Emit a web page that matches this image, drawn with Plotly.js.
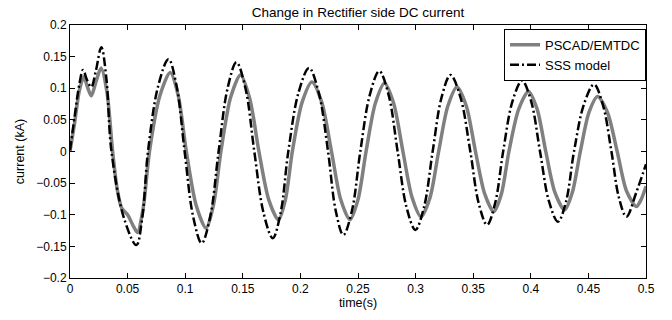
<!DOCTYPE html>
<html>
<head>
<meta charset="utf-8">
<script src="https://cdn.plot.ly/plotly-3.0.1.min.js"></script>
<style>html,body{margin:0;padding:0;background:#fff;}#chart{width:672px;height:320px;}</style>
</head>
<body>
<div id="chart"></div>
<script>
// PSCAD/EMTDC simulation (gray)
const pscadTime = [0.000,0.004,0.008,0.012,0.0155,0.0185,0.0225,0.027,0.032,0.037,0.041,0.045,0.050,0.055,0.0585,0.0635,0.069,0.078,0.087,0.094,0.101,0.1095,0.118,0.1245,0.131,0.1395,0.148,0.156,0.164,0.1725,0.181,0.187,0.193,0.2015,0.210,0.2185,0.227,0.235,0.243,0.250,0.257,0.265,0.273,0.281,0.289,0.297,0.3047,0.3125,0.320,0.328,0.336,0.344,0.352,0.360,0.3678,0.3745,0.381,0.3895,0.398,0.4055,0.413,0.421,0.4294,0.436,0.443,0.4505,0.458,0.4665,0.475,0.483,0.4916,0.496,0.500];
const pscadCurrent = [0.000,0.045,0.095,0.118,0.100,0.088,0.110,0.132,0.095,0.000,-0.060,-0.090,-0.100,-0.118,-0.128,-0.090,0.000,0.088,0.125,0.088,0.000,-0.085,-0.121,-0.085,0.000,0.086,0.121,0.084,0.000,-0.076,-0.108,-0.076,0.000,0.078,0.110,0.078,0.000,-0.076,-0.108,-0.076,0.000,0.076,0.108,0.076,0.000,-0.073,-0.103,-0.073,0.000,0.072,0.102,0.072,0.000,-0.067,-0.095,-0.067,0.000,0.067,0.095,0.067,0.000,-0.065,-0.0925,-0.065,0.000,0.062,0.087,0.062,0.000,-0.062,-0.087,-0.075,-0.055];

// SSS model (black dash-dot)
const sssTime = [0.000,0.004,0.008,0.0113,0.015,0.0185,0.0225,0.0272,0.0316,0.036,0.0468,0.0576,0.0627,0.0677,0.0766,0.0855,0.0925,0.0995,0.1069,0.1143,0.1217,0.129,0.1368,0.1445,0.1523,0.160,0.168,0.176,0.1828,0.1895,0.1985,0.2075,0.2158,0.224,0.2307,0.2373,0.2447,0.252,0.2603,0.2685,0.2765,0.2844,0.2921,0.2998,0.3073,0.3148,0.3226,0.3303,0.3389,0.3475,0.3548,0.362,0.369,0.376,0.3842,0.3924,0.4002,0.408,0.4158,0.4236,0.4306,0.4375,0.4462,0.4548,0.4624,0.470,0.4765,0.483,0.4915,0.500];
const sssCurrent = [0.002,0.055,0.105,0.129,0.112,0.102,0.128,0.165,0.115,0.000,-0.105,-0.148,-0.105,0.000,0.104,0.146,0.104,0.000,-0.103,-0.145,-0.103,0.000,0.100,0.141,0.100,0.000,-0.097,-0.137,-0.097,0.000,0.094,0.132,0.094,0.000,-0.094,-0.132,-0.094,0.000,0.090,0.127,0.090,0.000,-0.088,-0.124,-0.088,0.000,0.086,0.121,0.086,0.000,-0.082,-0.116,-0.082,0.000,0.080,0.112,0.080,0.000,-0.079,-0.111,-0.079,0.000,0.075,0.106,0.075,0.000,-0.073,-0.103,-0.065,-0.020];

const xTickVals = [0,0.05,0.1,0.15,0.2,0.25,0.3,0.35,0.4,0.45,0.5];
const xTickText = ["0","0.05","0.1","0.15","0.2","0.25","0.3","0.35","0.4","0.45","0.5"];
const yTickVals = [-0.2,-0.15,-0.1,-0.05,0,0.05,0.1,0.15,0.2];
const yTickText = ["\u22120.2","\u22120.15","\u22120.1","\u22120.05","0","0.05","0.1","0.15","0.2"];

const fam = "Liberation Sans, Arial, sans-serif";
const tickFont = {family: fam, size: 12, color: "#000"};
const axisTitleFont = {family: fam, size: 12.5, color: "#000"};

const traces = [
  {x: pscadTime, y: pscadCurrent, type: "scatter", mode: "lines", name: "PSCAD/EMTDC",
   line: {color: "#808080", width: 3.5, shape: "spline", smoothing: 0.8}},
  {x: sssTime, y: sssCurrent, type: "scatter", mode: "lines", name: "SSS model",
   line: {color: "#000", width: 2.5, shape: "spline", smoothing: 1, dash: "9px,3px,2px,3px"}}
];

const axisCommon = {showline: true, linecolor: "#000", linewidth: 1, mirror: "ticks",
  ticks: "inside", ticklen: 5, tickcolor: "#000", showgrid: false, zeroline: false,
  tickfont: tickFont};

const layout = {
  width: 672, height: 320,
  margin: {l: 70, r: 26, t: 25, b: 42},
  paper_bgcolor: "#fff", plot_bgcolor: "#fff",
  font: tickFont,
  title: {text: "Change in Rectifier side DC current", font: {family: fam, size: 13.5, color: "#000"},
    x: 0.5, xref: "paper", y: 0.962, yanchor: "middle"},
  xaxis: Object.assign({}, axisCommon, {range: [0, 0.5], tickmode: "array", tickvals: xTickVals, ticktext: xTickText,
    title: {text: "time(s)", font: axisTitleFont, standoff: 2}}),
  yaxis: Object.assign({}, axisCommon, {range: [-0.2, 0.2], tickmode: "array", tickvals: yTickVals, ticktext: yTickText,
    title: {text: "current (kA)", font: axisTitleFont, standoff: 8}}),
  legend: {x: 1, xanchor: "right", y: 0.985, yanchor: "top", bgcolor: "#fff", bordercolor: "#000", borderwidth: 1,
    font: {family: fam, size: 13, color: "#000"}, tracegroupgap: 0, itemwidth: 30},
  showlegend: true
};

Plotly.newPlot("chart", traces, layout, {displayModeBar: false, staticPlot: true});
</script>
</body>
</html>
